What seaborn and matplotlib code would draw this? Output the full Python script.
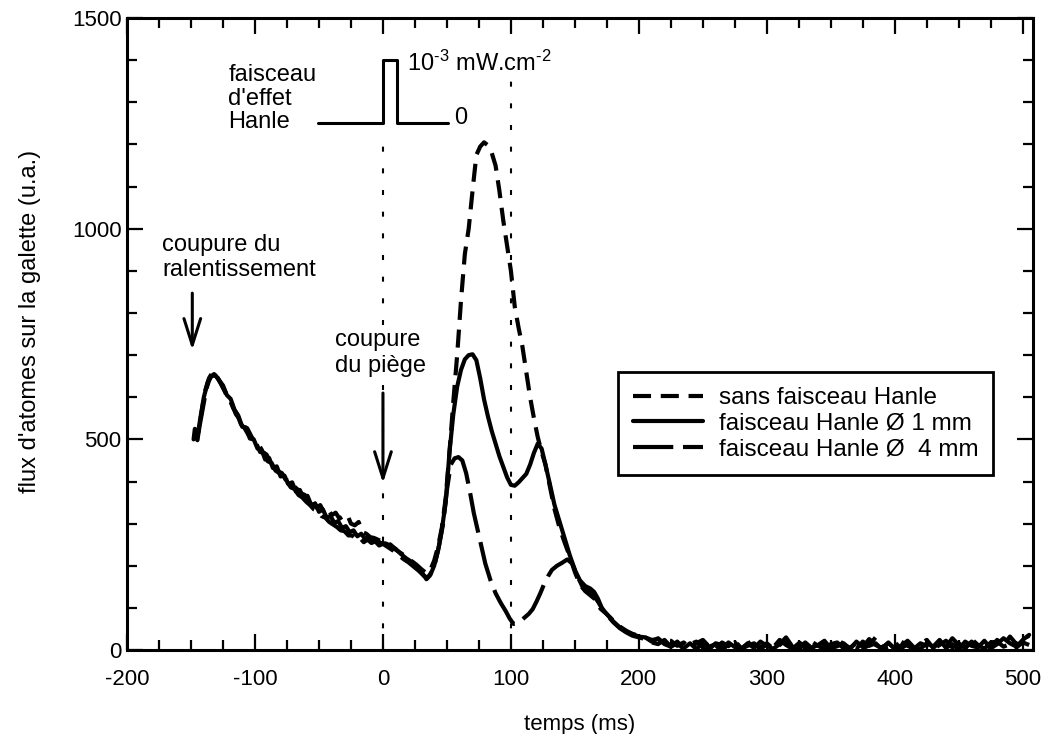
"""
Flux d'atomes sur la galette — effet Hanle
"""
import pandas as pd
import matplotlib
matplotlib.use('Agg')
import matplotlib.pyplot as plt
import seaborn as sns
from matplotlib.ticker import MultipleLocator

# ── Values (t in ms, flux in u.a.) ────────────────────────────
tail_t = [205, 210, 215, 220, 225, 230, 235, 240, 245, 250, 255, 260, 265,
          270, 275, 280, 285, 290, 295, 300, 305, 310, 315, 320, 325, 330,
          335, 340, 345, 350, 355, 360, 365, 370, 375, 380, 385, 390, 395,
          400, 405, 410, 415, 420, 425, 430, 435, 440, 445, 450, 455, 460,
          465, 470, 475, 480, 485, 490, 495, 500, 505]

# sans faisceau Hanle (short dashes)
sans_t = [-147, -145, -142, -139, -136, -133, -130, -127, -124, -121, -118,
          -115, -112, -109, -106, -103, -100, -97, -94, -91, -88, -85, -82,
          -79, -76, -73, -70, -67, -64, -61, -58, -55, -52, -49, -46, -43,
          -40, -37, -34, -31, -28, -25, -22, -19, -16, -13, -10, -7, -4, -1,
          2, 6, 10, 14, 18, 22, 26, 30, 34, 37, 40,
          43, 46, 49, 52, 55, 58, 61, 64, 67, 70, 73, 76, 79, 82, 85, 88, 91,
          94, 97, 100, 103, 106, 109, 112, 115, 118, 121, 124, 127, 130, 134,
          138, 142, 146, 150, 154, 158, 162, 166, 170, 175, 180, 185, 190,
          195, 200] + tail_t
sans_v = [510, 498, 560, 615, 645, 660, 650, 635, 618, 598, 584, 560, 548,
          530, 526, 508, 492, 488, 470, 464, 446, 442, 424, 420, 404, 402,
          390, 382, 372, 368, 352, 356, 338, 344, 326, 334, 320, 326, 312,
          318, 322, 300, 296, 304, 280, 276, 268, 266, 262, 258,
          256, 250, 238, 230, 222, 212, 203, 192, 182, 190,
          212, 245, 290, 360, 470, 590, 700, 830, 940, 1000, 1090, 1175,
          1195, 1205, 1198, 1180, 1150, 1090, 1020, 960, 900, 815, 765, 720,
          660, 600, 550, 505, 470, 440, 395, 335, 290, 255, 222, 185, 155,
          140, 130, 120, 98, 85, 70, 56, 46, 38, 34,
          30, 24, 26, 16, 22, 10, 18, 6, 16, 24, 8, 2, 18, 9, 22, 4, 14, 26,
          6, 16, 3, 12, 24, 5, 18, 10, 2, 22, 12, 4, 26, 14, 5, 18, 3, 12,
          30, 6, 16, 4, 20, 10, 3, 15, 24, 5, 18, 8, 28, 12, 4, 20, 9, 16, 5,
          24, 12, 32, 14, 26, 34]

# faisceau Hanle 1 mm (solid)
mm1_t = [-148, -147, -145, -143, -140, -137, -134, -131, -128, -125, -122,
         -119, -116, -113, -110, -107, -104, -101, -98, -95, -92, -89, -86,
         -83, -80, -77, -74, -71, -68, -65, -62, -59, -56, -53, -50, -47,
         -44, -41, -38, -35, -32, -29, -26, -23, -20, -17, -14, -11, -8, -5,
         -2, 2, 6, 10, 14, 18, 22, 26, 30, 34, 37,
         40, 43, 46, 49, 52, 55, 58, 61, 64, 67, 70, 73, 76, 79, 82, 85, 88,
         91, 94, 97, 100, 103, 106, 109, 112, 115, 118, 121, 124, 127, 130,
         134, 138, 142, 146, 150, 154, 158, 162, 165, 168, 171, 175, 180,
         185, 190, 195, 200] + tail_t
mm1_v = [500, 525, 505, 545, 600, 635, 650, 652, 640, 628, 605, 596, 570,
         556, 530, 528, 502, 500, 478, 476, 452, 456, 432, 436, 412, 414,
         394, 398, 376, 380, 360, 366, 344, 348, 328, 334, 314, 318, 302,
         306, 290, 294, 280, 284, 270, 276, 264, 268, 258, 262,
         254, 253, 248, 240, 228, 218, 210, 200, 186, 168, 178,
         200, 235, 285, 350, 470, 560, 625, 665, 690, 700, 702, 688, 645,
         595, 555, 520, 490, 460, 435, 410, 392, 390, 398, 408, 418, 440,
         468, 490, 478, 440, 400, 345, 305, 265, 225, 190, 165, 152, 146,
         138, 122, 100, 85, 68, 54, 44, 38, 32,
         30, 20, 28, 14, 8, 20, 4, 16, 2, 18, 8, 14, 3, 18, 7, 2, 16, 5, 20,
         10, 3, 14, 30, 8, 2, 18, 5, 12, 22, 4, 9, 16, 2, 20, 7, 26, 12, 4,
         18, 2, 10, 22, 6, 3, 16, 8, 24, 5, 14, 2, 20, 10, 6, 22, 4, 14, 28,
         16, 8, 24, 36]

# faisceau Hanle 4 mm (long dashes)
mm4_t = [-146, -144, -141, -138, -135, -132, -129, -126, -123, -120, -117,
         -114, -111, -108, -105, -102, -99, -96, -93, -90, -87, -84, -81,
         -78, -75, -72, -69, -66, -63, -60, -57, -54, -51, -48, -45, -42,
         -39, -36, -33, -30, -27, -24, -21, -18, -15, -12, -9, -6, -3, 0,
         4, 8, 12, 16, 20, 24, 28, 32, 35, 38, 41, 44,
         47, 50, 53, 56, 59, 62, 65, 68, 71, 74, 77, 80, 84, 88, 92, 96, 99,
         102, 105, 108, 111, 114, 117, 120, 123, 126, 129, 132, 136, 140,
         144, 148, 152, 156, 160, 164, 168, 172, 176, 180, 185, 190, 195,
         200] + tail_t
mm4_v = [505, 520, 570, 620, 648, 655, 645, 628, 610, 596, 574, 560, 536,
         526, 510, 498, 490, 470, 468, 448, 444, 426, 420, 406, 400, 386,
         382, 368, 362, 352, 344, 334, 330, 318, 314, 304, 298, 292, 284,
         282, 272, 272, 262, 266, 256, 262, 254, 258, 248, 252,
         244, 236, 226, 216, 208, 198, 188, 176, 172, 185, 210, 250,
         300, 380, 440, 455, 458, 450, 420, 375, 325, 285, 245, 205,
         166, 135, 112, 92, 75, 62, 63, 70, 78, 86, 97, 115, 135, 157, 175,
         190, 200, 207, 215, 205, 175, 150, 140, 132, 115, 95, 80, 66, 52,
         42, 34, 30,
         26, 18, 14, 24, 8, 16, 3, 14, 20, 6, 2, 16, 12, 4, 18, 3, 10, 16, 2,
         14, 6, 24, 12, 3, 16, 5, 20, 10, 2, 14, 18, 4, 12, 3, 20, 10, 16, 2,
         6, 18, 4, 14, 3, 16, 10, 2, 12, 22, 6, 16, 4, 26, 12, 3, 18, 20, 8,
         14, 6, 18, 12]

series_labels = ['sans faisceau Hanle', 'faisceau Hanle Ø 1 mm',
                 'faisceau Hanle Ø  4 mm']

# Hanle beam pulse sketch (upper left)
pulse_t = [-51, 0, 0, 11, 11, 51]
pulse_v = [1251, 1251, 1400, 1400, 1251, 1251]

# dotted markers at beam switch-on / switch-off
vline_t = [0, 100]
vline_top = [1210, 1360]

# ── Style ─────────────────────────────────────────────────────
sns.set_theme(style='ticks')
plt.rcParams['font.family'] = ['Liberation Sans', 'DejaVu Sans']
plt.rcParams['mathtext.fontset'] = 'custom'
plt.rcParams['mathtext.rm'] = 'Liberation Sans'
plt.rcParams['mathtext.default'] = 'regular'
plt.rcParams['axes.unicode_minus'] = False
plt.rcParams['lines.scale_dashes'] = False
for k in ['text.color', 'axes.labelcolor', 'xtick.color', 'ytick.color',
          'axes.edgecolor']:
    plt.rcParams[k] = 'black'
plt.rcParams['axes.linewidth'] = 2.2

fig = plt.figure(figsize=(10.43, 7.34), dpi=100)
ax = fig.add_axes([0.1218, 0.1144, 0.8686, 0.8610])

styles = [(0, (13, 7)), '-', (0, (29, 7))]
curves = [(sans_t, sans_v), (mm1_t, mm1_v), (mm4_t, mm4_v)]
for (t, v), ls, lab in zip(curves, styles, series_labels):
    df = pd.DataFrame({'t': t, 'v': v})
    sns.lineplot(data=df, x='t', y='v', ax=ax, color='black', lw=3.0,
                 linestyle=ls, estimator=None, sort=False, label=lab)

ax.vlines(vline_t, 0, vline_top, colors='black', lw=1.5,
          linestyles=[(0, (3.6, 12))], zorder=1)

# pulse sketch
ax.plot(pulse_t, pulse_v, color='black', lw=2.2)
ax.text(19, 1393, r'10$^{\text{-3}}$ mW.cm$^{\text{-2}}$', fontsize=17,
        va='center', ha='left')
ax.text(56, 1262, '0', fontsize=17, va='center', ha='left')
ax.text(-121, 1309, "faisceau\nd'effet\nHanle", fontsize=17, va='center',
        ha='left', linespacing=1.1)

# annotations
arrow = dict(arrowstyle='->,head_length=0.95,head_width=0.3', lw=2.2,
             color='black', mutation_scale=20, shrinkA=0, shrinkB=0)
ax.text(-172.6, 932, 'coupure du\nralentissement', fontsize=17,
        va='center', ha='left', linespacing=1.2)
ax.annotate('', xy=(-149, 712), xytext=(-149, 847), arrowprops=arrow)
ax.text(-37.5, 705, 'coupure\ndu piège', fontsize=17, va='center',
        ha='left', linespacing=1.2, zorder=3,
        bbox=dict(facecolor='white', edgecolor='none', pad=2))
ax.annotate('', xy=(0, 396), xytext=(0, 610), arrowprops=arrow)

# axes
ax.set_xlim(-200, 508)
ax.set_ylim(0, 1500)
ax.xaxis.set_major_locator(MultipleLocator(100))
ax.xaxis.set_minor_locator(MultipleLocator(25))
ax.yaxis.set_major_locator(MultipleLocator(500))
ax.yaxis.set_minor_locator(MultipleLocator(100))
ax.tick_params(which='major', direction='in', length=11.5, width=1.6,
               top=True, right=True, labelsize=16)
ax.tick_params(which='minor', direction='in', length=7, width=1.6,
               top=True, right=True)
ax.tick_params(axis='x', pad=14)
ax.tick_params(axis='y', pad=4)
ax.set_xlabel('temps (ms)', fontsize=16, labelpad=17)
ax.set_ylabel("flux d'atomes sur la galette (u.a.)", fontsize=17)
ax.yaxis.set_label_coords(-0.095, 0.52)

leg = ax.legend(loc='lower right', bbox_to_anchor=(0.956, 0.277),
                fontsize=17.5, frameon=True, fancybox=False, framealpha=1,
                edgecolor='black', handlelength=2.9, handletextpad=0.65,
                labelspacing=0.15, borderpad=0.6, borderaxespad=0)
leg.get_frame().set_linewidth(2)

fig.savefig('out.png', dpi=100)
